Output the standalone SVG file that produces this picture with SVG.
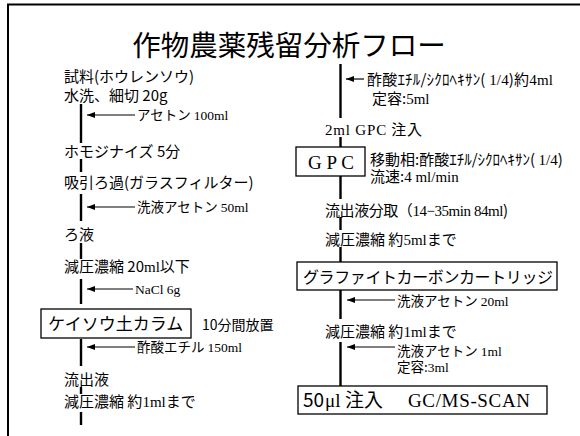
<svg xmlns="http://www.w3.org/2000/svg" width="580" height="436" viewBox="0 0 580 436">
<style>
.jp{font-family:"Noto Sans CJK JP","Noto Sans CJK SC",sans-serif;fill:#000}
.se{font-family:"Liberation Serif","Noto Serif CJK JP",serif}
.b{font-size:15px}
.s{font-size:13.5px}
.r{font-size:15px}
.flow{stroke:#000;stroke-width:2.4;fill:none}
.arr{stroke:#000;stroke-width:1.2;fill:none;marker-end:url(#ah)}
.box{fill:#fff;stroke:#000;stroke-width:1.3}
.frame{stroke:#000;stroke-width:2;fill:none}
</style>
<defs>
<marker id="ah" markerUnits="userSpaceOnUse" markerWidth="8" markerHeight="6" refX="8" refY="3" orient="auto">
<path d="M0,0 L8,3 L0,6 z" fill="#000"/>
</marker>
</defs>
<rect x="0" y="0" width="580" height="436" fill="#fff"/>
<path class="frame" d="M8,436 L8,4.5 L580,4.5"/>
<text id="title" class="jp" x="289" y="56" font-size="28.5" text-anchor="middle">作物農薬残留分析フロー</text>

<g id="connectors">
<line class="flow" x1="81" y1="104" x2="81" y2="143"/>
<line class="flow" x1="81" y1="159" x2="81" y2="172"/>
<line class="flow" x1="81" y1="194" x2="81" y2="221"/>
<line class="flow" x1="81" y1="243" x2="81" y2="259"/>
<line class="flow" x1="81" y1="279" x2="81" y2="304"/>
<line class="flow" x1="81" y1="339" x2="81" y2="366"/>
<line class="flow" x1="81" y1="387" x2="81" y2="394"/>
<line class="flow" x1="81" y1="412" x2="81" y2="425"/>
<line class="arr" x1="135" y1="115" x2="87" y2="115"/>
<line class="arr" x1="135" y1="207" x2="87" y2="207"/>
<line class="arr" x1="133" y1="289" x2="87" y2="289"/>
<line class="arr" x1="135" y1="347" x2="87" y2="347"/>
<line class="flow" x1="340.5" y1="64" x2="340.5" y2="118"/>
<line class="flow" x1="340.5" y1="137" x2="340.5" y2="147"/>
<line class="flow" x1="340.5" y1="176" x2="340.5" y2="199"/>
<line class="flow" x1="340.5" y1="217" x2="340.5" y2="230"/>
<line class="flow" x1="340.5" y1="247" x2="340.5" y2="262"/>
<line class="flow" x1="340.5" y1="290" x2="340.5" y2="319"/>
<line class="flow" x1="340.5" y1="342" x2="340.5" y2="386"/>
<line class="arr" x1="364" y1="79" x2="346" y2="79"/>
<line class="arr" x1="395" y1="300" x2="347" y2="300"/>
<line class="arr" x1="395" y1="347" x2="347" y2="347"/>
</g>

<g id="n-sample"><text class="jp b" x="64" y="82">試料(ホウレンソウ)</text></g>
<g id="n-wash"><text class="jp b" x="64" y="101">水洗、細切 20g</text></g>
<g id="l-acetone100"><text class="jp s" x="137" y="120">アセトン <tspan class="se">100ml</tspan></text></g>
<g id="n-homog"><text class="jp b" x="64" y="157">ホモジナイズ 5分</text></g>
<g id="n-filter"><text class="jp b" x="64" y="188">吸引ろ過(ガラスフィルター)</text></g>
<g id="l-acetone50"><text class="jp s" x="137" y="212">洗液アセトン <tspan class="se">50ml</tspan></text></g>
<g id="n-filtrate"><text class="jp b" x="64" y="240">ろ液</text></g>
<g id="n-conc20"><text class="jp b" x="64" y="272">減圧濃縮 20<tspan class="se">ml</tspan>以下</text></g>
<g id="l-nacl"><text class="se s" x="135" y="294">NaCl  6g</text></g>
<g id="n-kieselguhr">
<rect class="box" x="41" y="309" width="150" height="29"/>
<text class="jp" x="48" y="330" font-size="17">ケイソウ土カラム</text>
</g>
<g id="l-stand"><text class="jp" x="202" y="330" font-size="14">10分間放置</text></g>
<g id="l-etoac"><text class="jp s" x="137" y="352">酢酸エチル <tspan class="se">150ml</tspan></text></g>
<g id="n-eluate"><text class="jp b" x="64" y="385">流出液</text></g>
<g id="n-conc1a"><text class="jp b" x="64" y="407">減圧濃縮 約<tspan class="se">1ml</tspan>まで</text></g>

<g id="l-solvent"><text class="jp r" x="367" y="85" textLength="186">酢酸ｴﾁﾙ/ｼｸﾛﾍｷｻﾝ( <tspan class="se">1/4</tspan>)約<tspan class="se">4ml</tspan></text>
<text class="jp r" x="372" y="104">定容:<tspan class="se">5ml</tspan></text></g>
<g id="n-inject"><text class="jp r" x="325" y="135" textLength="97"><tspan class="se">2ml GPC</tspan> 注入</text></g>
<g id="n-gpc">
<rect class="box" x="296" y="147" width="69" height="29"/>
<text class="se" x="331" y="169" font-size="19" text-anchor="middle">G P C</text>
</g>
<g id="l-mobile"><text class="jp r" x="370" y="165">移動相:酢酸ｴﾁﾙ/ｼｸﾛﾍｷｻﾝ( <tspan class="se">1/4</tspan>)</text>
<text class="jp r" x="370" y="182">流速:<tspan class="se">4 ml/min</tspan></text></g>
<g id="n-fraction"><text class="jp r" x="325" y="216" textLength="183">流出液分取（<tspan class="se">14−35min  84ml</tspan>)</text></g>
<g id="n-conc5"><text class="jp r" x="325" y="245">減圧濃縮 約<tspan class="se">5ml</tspan>まで</text></g>
<g id="n-graphite">
<rect class="box" x="297" y="262" width="260" height="28"/>
<text class="jp" x="303" y="283" font-size="16" textLength="250">グラファイトカーボンカートリッジ</text>
</g>
<g id="l-acetone20"><text class="jp s" x="397" y="306">洗液アセトン <tspan class="se">20ml</tspan></text></g>
<g id="n-conc1b"><text class="jp r" x="325" y="337">減圧濃縮 約<tspan class="se">1ml</tspan>まで</text></g>
<g id="l-acetone1"><text class="jp s" x="397" y="356">洗液アセトン <tspan class="se">1ml</tspan></text>
<text class="jp s" x="397" y="372">定容:<tspan class="se">3ml</tspan></text></g>
<g id="n-gcms">
<rect class="box" x="298" y="386" width="249" height="28"/>
<text class="jp" y="407" font-size="19"><tspan x="303">50</tspan><tspan class="se" x="325">μl</tspan><tspan x="345">注入</tspan><tspan class="se" x="408" textLength="122">GC/MS-SCAN</tspan></text>
</g>
</svg>
